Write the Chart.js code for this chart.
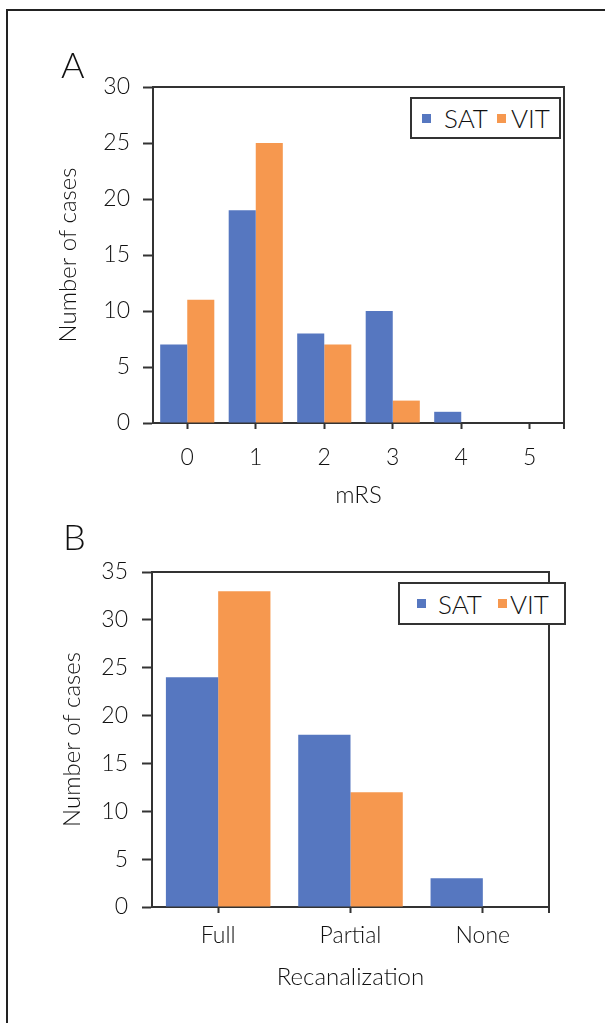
<!DOCTYPE html>
<html>
<head>
<meta charset="utf-8">
<script src="https://cdn.jsdelivr.net/npm/chart.js@4.4.1/dist/chart.umd.min.js"></script>
<style>
  html, body { margin: 0; padding: 0; background: #fff; }
  body { width: 605px; height: 1023px; position: relative; overflow: hidden; font-family: Lato, "Open Sans", sans-serif; font-weight: 300; color: #111; }
  .frame { position: absolute; left: 6px; top: 9px; width: 700px; height: 1100px; border-left: 2px solid #222; border-top: 2px solid #222; }
  .wrap { position: absolute; left: 0; width: 605px; }
  .panel { position: absolute; font-size: 36px; line-height: 1; }
  .legend { position: absolute; background: #fff; border: 2px solid #333; box-sizing: border-box; display: flex; align-items: center; font-size: 26px; }
  .legend .sw { display: inline-block; width: 9px; height: 9px; }
  .legend .item { display: flex; align-items: center; }
</style>
</head>
<body>
<div class="frame"></div>
<div class="wrap" style="top:0;height:515px"><canvas id="chartA"></canvas></div>
<div class="wrap" style="top:520px;height:503px"><canvas id="chartB"></canvas></div>
<div class="panel" style="left:61px;top:46px">A</div>
<div class="panel" style="left:63px;top:518px">B</div>
<div class="legend" id="legendA" style="left:410px;top:97px;width:151px;height:42px;padding-left:10px"></div>
<div class="legend" id="legendB" style="left:398px;top:582px;width:168px;height:43px;padding-left:17px"></div>
<script>
// --- Data ---
const series_names = ['SAT', 'VIT'];
const series_colors = ['#5677c0', '#f6984f'];

const mrs_labels = ['0', '1', '2', '3', '4', '5'];
const mrs_sat = [7, 19, 8, 10, 1, 0];
const mrs_vit = [11, 25, 7, 2, 0, 0];

const recan_labels = ['Full', 'Partial', 'None'];
const recan_sat = [24, 18, 3];
const recan_vit = [33, 12, 0];

const AXIS = '#333';
const FONT = 'Lato, "Open Sans", sans-serif';

// draws the top/right box lines of the plot + end tick
const frame_plugin = {
  id: 'frame',
  afterDraw(chart) {
    const { ctx, chartArea: a } = chart;
    ctx.save();
    ctx.strokeStyle = AXIS;
    ctx.lineWidth = 2;
    ctx.beginPath();
    ctx.moveTo(a.left, a.top);
    ctx.lineTo(a.right, a.top);
    ctx.lineTo(a.right, a.bottom + 6);
    ctx.stroke();
    ctx.restore();
  }
};

function make_chart(id, labels, sat, vit, opt) {
  const tick_font = { family: FONT, size: 23, weight: 300 };
  const title_font = { family: FONT, size: 24, weight: 300 };
  return new Chart(document.getElementById(id), {
    type: 'bar',
    data: {
      labels,
      datasets: [
        { label: series_names[0], data: sat, backgroundColor: series_colors[0] },
        { label: series_names[1], data: vit, backgroundColor: series_colors[1] }
      ]
    },
    options: {
      responsive: true,
      maintainAspectRatio: false,
      animation: false,
      events: [],
      barPercentage: 1,
      categoryPercentage: 0.79,
      layout: { padding: opt.padding },
      plugins: { legend: { display: false }, tooltip: { enabled: false } },
      scales: {
        x: {
          afterFit: s => { s.height = opt.xHeight; },
          grid: { offset: false, drawOnChartArea: false, tickLength: 6, tickWidth: 2, color: AXIS },
          border: { color: AXIS, width: 2 },
          ticks: { color: '#111', padding: opt.xPad, font: tick_font },
          title: { display: true, text: opt.xTitle, color: '#111', font: title_font, padding: { top: 0, bottom: opt.xTitlePad } }
        },
        y: {
          min: 0, max: opt.yMax,
          afterFit: s => { s.width = opt.yWidth; },
          grid: { drawOnChartArea: false, tickLength: 10, tickWidth: 2, color: AXIS },
          border: { color: AXIS, width: 2 },
          ticks: { stepSize: 5, color: '#111', padding: opt.yPad, font: tick_font },
          title: { display: true, text: 'Number of cases', color: '#111', font: title_font, padding: { top: opt.yTitlePad, bottom: 0 } }
        }
      }
    },
    plugins: [frame_plugin]
  });
}

// gaps: [swatch->text, text->next swatch]
function build_legend(id, gaps) {
  const el = document.getElementById(id);
  series_names.forEach((n, i) => {
    const item = document.createElement('span');
    item.className = 'item';
    if (i > 0) item.style.marginLeft = gaps[i][1] + 'px';
    item.innerHTML = `<span class="sw" style="background:${series_colors[i]};margin-right:${gaps[i][0]}px"></span>${n}`;
    el.appendChild(item);
  });
}

make_chart('chartA', mrs_labels, mrs_sat, mrs_vit, {
  padding: { top: 87, right: 41, left: 0, bottom: 0 },
  xHeight: 92, xPad: 15, xTitle: 'mRS', xTitlePad: 5,
  yMax: 30, yWidth: 153, yPad: 13, yTitlePad: 54
});

make_chart('chartB', recan_labels, recan_sat, recan_vit, {
  padding: { top: 52, right: 56, left: 0, bottom: 0 },
  xHeight: 116, xPad: 9, xTitle: 'Recanalization', xTitlePad: 31,
  yMax: 35, yWidth: 152, yPad: 14, yTitlePad: 58
});

build_legend('legendA', [[13, 0], [5, 9]]);
build_legend('legendB', [[12, 0], [3, 16]]);
</script>
</body>
</html>
